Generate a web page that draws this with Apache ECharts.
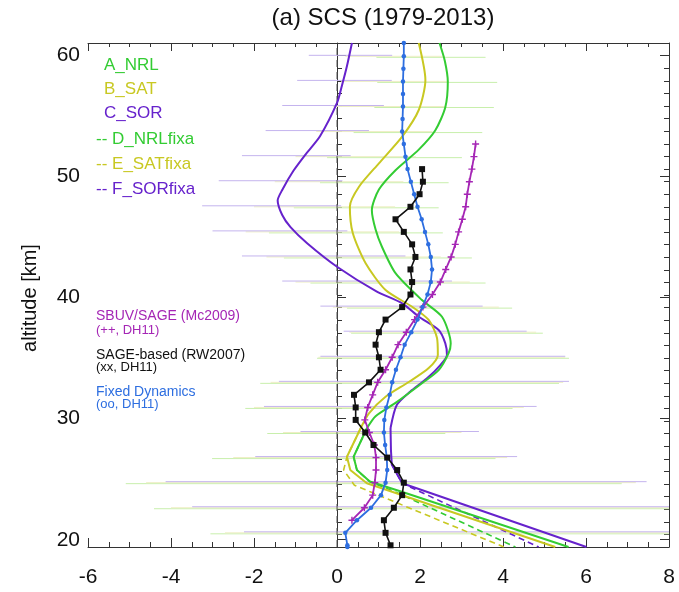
<!DOCTYPE html>
<html><head><meta charset="utf-8">
<script src="https://cdn.jsdelivr.net/npm/echarts@6/dist/echarts.min.js"></script>
<style>html,body{margin:0;padding:0;background:#fff}#c{width:679px;height:592px}</style>
</head><body><div id="c"></div>
<script>
// ---- data: [value, altitude km] ----
const xTickLabels = [-6,-4,-2,0,2,4,6,8];
const yTickLabels = [20,30,40,50,60];
// model profiles: smooth upper part and polygonal lower part (share the junction point)
const A_NRL = [[2.47,61.0],[2.60,59.5],[2.67,57.8],[2.61,55.7],[2.37,53.8],[1.97,52.2],[1.41,50.5],[1.01,48.9],[0.84,47.2],[0.93,45.6],[1.08,44.2],[1.41,42.0],[2.04,39.8],[2.53,38.4],[2.74,36.2],[2.69,35.4],[2.45,34.0],[2.04,32.9],[1.41,31.3],[0.93,30.2],[0.72,29.2]];
const A_NRL_low = [[0.72,29.2],[0.40,26.85],[0.48,25.75],[0.79,24.8],[1.56,23.96],[5.58,19.4]];
const B_SAT = [[1.97,61.0],[2.13,57.95],[1.97,55.47],[1.57,53.27],[1.01,51.07],[0.53,49.14],[0.31,47.49],[0.38,45.32],[0.69,42.82],[1.17,40.61],[1.81,39.23],[2.21,38.14],[2.41,36.65],[2.43,35.25],[2.21,34.17],[1.73,33.02],[1.17,31.8],[0.77,30.43],[0.57,29.2]];
const B_SAT_low = [[0.57,29.2],[0.24,26.85],[0.32,25.75],[0.72,24.66],[5.26,19.4]];
const C_SOR = [[0.36,61.0],[0.24,59.1],[0.12,57.5],[0.0,56.05],[-0.41,53.3],[-0.77,51.75],[-1.05,50.45],[-1.32,48.87],[-1.43,48.0],[-1.32,46.8],[-1.12,45.8],[-0.72,44.47],[0.0,42.53],[0.95,40.5],[1.57,39.51],[1.97,38.41],[2.45,37.31],[2.61,36.21],[2.65,35.25],[2.49,34.42],[2.17,33.32],[1.76,32.22],[1.44,31.12],[1.29,29.22]];
const C_SOR_low = [[1.29,29.22],[1.30,27.4],[1.32,26.2],[1.57,24.66],[6.01,19.4]];
const D_NRLfixa = [[0.72,29.2],[0.40,26.85],[0.48,25.75],[0.79,24.8],[1.40,23.96],[4.30,19.4]];
const E_SATfixa = [[0.57,29.2],[0.24,26.85],[0.16,25.75],[0.42,24.5],[0.80,23.96],[4.02,19.4]];
const F_SORfixa = [[1.32,26.2],[1.57,24.66],[4.86,19.4]];
const SBUV_SAGE = [[3.34,52.66],[3.30,51.62],[3.25,50.59],[3.19,49.55],[3.14,48.52],[3.10,47.48],[3.02,46.45],[2.93,45.41],[2.85,44.38],[2.75,43.34],[2.62,42.31],[2.49,41.27],[2.30,40.24],[2.07,39.2],[1.87,38.17],[1.67,37.13],[1.47,36.1],[1.33,35.06],[1.17,34.03],[0.98,32.99],[0.86,31.96],[0.74,30.92],[0.67,29.89],[0.78,28.85],[0.90,27.82],[0.94,26.78],[0.94,25.75],[0.91,24.71],[0.86,23.68],[0.66,22.64],[0.36,21.61]];
const SAGE_based = [[2.05,50.59],[2.07,49.55],[1.99,48.52],[1.77,47.48],[1.41,46.45],[1.61,45.41],[1.81,44.38],[1.89,43.34],[1.77,42.31],[1.81,41.27],[1.77,40.24],[1.57,39.2],[1.17,38.17],[1.01,37.13],[0.93,36.1],[1.01,35.06],[1.05,34.03],[0.77,32.99],[0.41,31.96],[0.45,30.92],[0.45,29.89],[0.68,28.85],[0.88,27.82],[1.21,26.78],[1.45,25.75],[1.61,24.71],[1.57,23.68],[1.37,22.64],[1.13,21.61],[1.17,20.57],[1.29,19.54]];
const FixedDyn = [[1.61,61.0],[1.61,59.9],[1.60,58.87],[1.59,57.83],[1.59,56.8],[1.59,55.76],[1.58,54.73],[1.57,53.69],[1.61,52.66],[1.65,51.62],[1.70,50.59],[1.78,49.55],[1.86,48.52],[1.94,47.48],[2.04,46.45],[2.12,45.41],[2.20,44.38],[2.26,43.34],[2.29,42.31],[2.26,41.27],[2.18,40.24],[2.06,39.2],[1.94,38.17],[1.79,37.13],[1.63,36.1],[1.53,35.06],[1.42,34.03],[1.33,32.99],[1.27,31.96],[1.19,30.92],[1.14,29.89],[1.13,28.85],[1.16,27.82],[1.20,26.78],[1.21,25.75],[1.17,24.71],[1.06,23.68],[0.82,22.64],[0.48,21.61],[0.20,20.57],[0.25,19.54],[0.25,19.4]];
// spread bars: [left, right, altitude]
const barsSOR = [[-0.68,1.33,59.9],[-0.96,1.32,57.83],[-1.32,1.13,55.76],[-1.72,0.77,53.69],[-2.29,0.33,51.62],[-2.85,0.13,49.55],[-3.25,0.1,47.48],[-3.0,0.25,45.41],[-2.29,1.65,43.34],[-1.32,2.77,41.27],[-0.40,3.51,39.2],[0.16,4.57,37.13],[-0.40,5.50,35.06],[-1.40,5.59,32.99],[-1.76,4.81,30.92],[-0.88,3.42,28.85],[-1.97,4.34,26.78],[-4.13,7.46,24.71],[-3.49,8.0,22.64],[-2.24,8.0,20.57]];
const barsNRL = [[0.95,3.58,59.9],[0.97,3.86,57.83],[0.9,3.78,55.76],[0.40,3.50,53.69],[-0.24,3.01,51.62],[-0.41,2.69,49.55],[-1.04,2.45,47.48],[-1.64,2.55,45.41],[-1.28,3.25,43.34],[-0.64,3.58,41.27],[0.24,4.22,39.2],[0.34,4.96,37.13],[-0.48,5.59,35.06],[-1.85,5.35,32.99],[-2.21,4.23,30.92],[-1.68,2.61,28.85],[-3.01,3.82,26.78],[-5.09,6.86,24.71],[-4.41,8.0,22.64],[-3.05,8.0,20.57]];
const barsSAT = [[0.2,2.6,59.9],[0.1,2.7,57.83],[-0.1,2.6,55.76],[-0.5,2.3,53.69],[-1.0,1.9,51.62],[-1.5,1.6,49.55],[-2.0,1.4,47.48],[-2.2,1.5,45.41],[-1.7,2.5,43.34],[-1.0,3.2,41.27],[-0.1,3.9,39.2],[0.3,4.8,37.13],[-0.45,5.5,35.06],[-1.6,5.45,32.99],[-2.0,4.5,30.92],[-1.3,3.0,28.85],[-2.5,4.1,26.78],[-4.6,7.2,24.71],[-4.0,8.0,22.64],[-2.7,8.0,20.57]];
const zeroLine = [[0,19.4],[0,61]];

const Y_MIN = 19.4, Y_MAX = 61;
const minorY = [];
for (let k = 0; k <= 40; k++) minorY.push(+(Y_MAX - k*(Y_MAX-Y_MIN)/40).toFixed(3));

const FONT = 'Liberation Sans, Arial, Helvetica, sans-serif';
const C = {nrl:'#33cc33', sat:'#c8c822', sor:'#6622cc', sbuv:'#a526b5', fix:'#2d6ee0', sage:'#111111'};

function barSeries(data, color, dy) {
  return {
    type:'custom', data:data, silent:true, z:1,
    renderItem:function(params, api){
      const p1 = api.coord([api.value(0), api.value(2)]);
      const p2 = api.coord([api.value(1), api.value(2)]);
      return {type:'line', shape:{x1:p1[0], y1:p1[1]+dy, x2:p2[0], y2:p2[1]+dy}, style:{stroke:color, lineWidth:1}};
    }
  };
}
function lineSeries(data, color, opts) {
  return Object.assign({type:'line', data:data, showSymbol:false, symbol:'none', silent:true, z:3,
    lineStyle:{color:color, width:2}, itemStyle:{color:color}}, opts||{});
}
const yCommon = {type:'value', min:Y_MIN, max:Y_MAX, splitLine:{show:false}};
const chart = echarts.init(document.getElementById('c'), null, {renderer:'canvas'});
chart.setOption({
  animation:false,
  grid:{left:88, right:10, top:43, bottom:45},
  xAxis:[
    {type:'value', min:-6, max:8, interval:2, position:'bottom',
     axisLine:{show:true, lineStyle:{color:'#333', width:1}},
     axisTick:{show:true, inside:true, length:9, lineStyle:{color:'#333'}},
     minorTick:{show:true, splitNumber:4, length:5, lineStyle:{color:'#333'}},
     axisLabel:{fontSize:21, color:'#111', margin:20, fontFamily:FONT},
     splitLine:{show:false}},
    {type:'value', min:-6, max:8, interval:2, position:'top',
     axisLine:{show:true, lineStyle:{color:'#333', width:1}},
     axisTick:{show:true, inside:true, length:8, lineStyle:{color:'#333'}},
     minorTick:{show:true, splitNumber:4, length:4, lineStyle:{color:'#333'}},
     axisLabel:{show:false}, splitLine:{show:false}}
  ],
  yAxis:[
    Object.assign({}, yCommon, {position:'left',
      axisLine:{show:true, lineStyle:{color:'#333'}},
      axisTick:{show:true, inside:true, length:9, customValues:yTickLabels, lineStyle:{color:'#333'}},
      axisLabel:{customValues:yTickLabels, fontSize:21, color:'#111', margin:8, fontFamily:FONT}}),
    Object.assign({}, yCommon, {position:'left',
      axisLine:{show:false},
      axisTick:{show:true, inside:true, length:5, customValues:minorY, lineStyle:{color:'#333'}},
      axisLabel:{show:false}}),
    Object.assign({}, yCommon, {position:'right',
      axisLine:{show:true, lineStyle:{color:'#333'}},
      axisTick:{show:true, inside:true, length:9, customValues:yTickLabels, lineStyle:{color:'#333'}},
      axisLabel:{show:false}}),
    Object.assign({}, yCommon, {position:'right',
      axisLine:{show:false},
      axisTick:{show:true, inside:true, length:5, customValues:minorY, lineStyle:{color:'#333'}},
      axisLabel:{show:false}})
  ],
  series:[
    barSeries(barsNRL, '#c8efac', 1),
    barSeries(barsSAT, '#eeeec4', 0),
    barSeries(barsSOR, '#c4b4ee', -1),
    lineSeries(zeroLine, '#555', {lineStyle:{color:'#555', width:1, type:[7,5]}, z:2}),
    lineSeries(D_NRLfixa, C.nrl, {lineStyle:{color:C.nrl, width:1.6, type:[6,4]}}),
    lineSeries(E_SATfixa, C.sat, {lineStyle:{color:C.sat, width:1.6, type:[6,4]}}),
    lineSeries(F_SORfixa, C.sor, {lineStyle:{color:C.sor, width:1.6, type:[6,4]}}),
    lineSeries(C_SOR, C.sor, {smooth:0.25}),
    lineSeries(C_SOR_low, C.sor),
    lineSeries(B_SAT, C.sat, {smooth:0.25}),
    lineSeries(B_SAT_low, C.sat),
    lineSeries(A_NRL, C.nrl, {smooth:0.25}),
    lineSeries(A_NRL_low, C.nrl),
    lineSeries(SBUV_SAGE, C.sbuv, {showSymbol:true, symbol:'path://M4,0H6V4H10V6H6V10H4V6H0V4H4Z', symbolSize:7, lineStyle:{color:C.sbuv, width:1.8}, z:4}),
    lineSeries(FixedDyn, C.fix, {showSymbol:true, symbol:'circle', symbolSize:4.5, lineStyle:{color:C.fix, width:1.8}, z:4}),
    lineSeries(SAGE_based, C.sage, {showSymbol:true, symbol:'rect', symbolSize:6, lineStyle:{color:C.sage, width:1.6}, z:5})
  ],
  graphic:[
    {type:'text', x:383, y:18, style:{text:'(a) SCS (1979-2013)', font:'24px '+FONT, fill:'#111', align:'center', verticalAlign:'middle'}},
    {type:'text', x:30, y:298, rotation:Math.PI/2, style:{text:'altitude [km]', font:'20px '+FONT, fill:'#111', align:'center', verticalAlign:'middle'}},
    {type:'text', x:104, y:65, style:{text:'A_NRL', font:'17px '+FONT, fill:C.nrl, verticalAlign:'middle'}},
    {type:'text', x:104, y:89, style:{text:'B_SAT', font:'17px '+FONT, fill:C.sat, verticalAlign:'middle'}},
    {type:'text', x:104, y:113, style:{text:'C_SOR', font:'17px '+FONT, fill:C.sor, verticalAlign:'middle'}},
    {type:'text', x:96, y:139, style:{text:'-- D_NRLfixa', font:'17px '+FONT, fill:C.nrl, verticalAlign:'middle'}},
    {type:'text', x:96, y:164, style:{text:'-- E_SATfixa', font:'17px '+FONT, fill:C.sat, verticalAlign:'middle'}},
    {type:'text', x:96, y:189, style:{text:'-- F_SORfixa', font:'17px '+FONT, fill:C.sor, verticalAlign:'middle'}},
    {type:'text', x:96, y:316, style:{text:'SBUV/SAGE (Mc2009)', font:'14px '+FONT, fill:C.sbuv, verticalAlign:'middle'}},
    {type:'text', x:96, y:330, style:{text:'(++, DH11)', font:'13px '+FONT, fill:C.sbuv, verticalAlign:'middle'}},
    {type:'text', x:96, y:355, style:{text:'SAGE-based (RW2007)', font:'14px '+FONT, fill:'#111', verticalAlign:'middle'}},
    {type:'text', x:96, y:367, style:{text:'(xx, DH11)', font:'13px '+FONT, fill:'#111', verticalAlign:'middle'}},
    {type:'text', x:96, y:392, style:{text:'Fixed Dynamics', font:'14px '+FONT, fill:C.fix, verticalAlign:'middle'}},
    {type:'text', x:96, y:404, style:{text:'(oo, DH11)', font:'13px '+FONT, fill:C.fix, verticalAlign:'middle'}}
  ]
});
</script></body></html>
